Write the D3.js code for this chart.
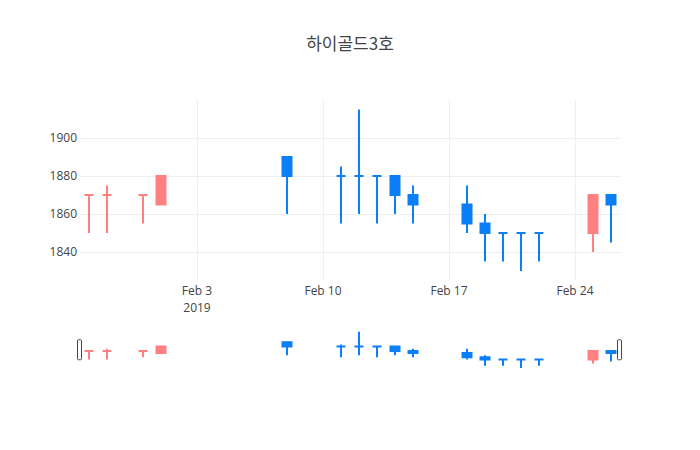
<!DOCTYPE html>
<html>
<head>
<meta charset="utf-8">
<script src="https://cdn.jsdelivr.net/npm/d3@7"></script>
<style>
  html, body { margin: 0; padding: 0; background: #fff; }
  svg { display: block; }
</style>
</head>
<body>
<svg id="chart" width="700" height="450"></svg>
<script>
const title = "하이골드3호";
const dates = ["2019-01-28","2019-01-29","2019-01-31","2019-02-01","2019-02-08","2019-02-11","2019-02-12","2019-02-13","2019-02-14","2019-02-15","2019-02-18","2019-02-19","2019-02-20","2019-02-21","2019-02-22","2019-02-25","2019-02-26"];
const openVals  = [1870,1870,1870,1865,1890,1880,1880,1880,1880,1870,1865,1855,1850,1850,1850,1850,1870];
const highVals  = [1870,1875,1870,1880,1890,1885,1915,1880,1880,1875,1875,1860,1850,1850,1850,1870,1870];
const lowVals   = [1850,1850,1855,1865,1860,1855,1860,1855,1860,1855,1850,1835,1835,1830,1835,1840,1845];
const closeVals = [1870,1870,1870,1880,1880,1880,1880,1880,1870,1865,1855,1850,1850,1850,1850,1870,1865];
const xTickDates = ["2019-02-03","2019-02-10","2019-02-17","2019-02-24"];
const xTickLabels = [["Feb 3","2019"],["Feb 10"],["Feb 17"],["Feb 24"]];
const yTicks = [1840,1860,1880,1900];
const xRange = ["2019-01-27T12:00:00Z","2019-02-26T12:00:00Z"];
const yRange = [1825.3, 1920];

const incColor = "#ff8080";
const decColor = "#0a7ff8";
const gridColor = "#eeeeee";
const textColor = "#444444";
const fontFam = "'Open Sans', 'Noto Sans', sans-serif";

const parse = s => new Date(s.length === 10 ? s + "T00:00:00Z" : s);
const data = dates.map((d, i) => ({ date: parse(d), o: openVals[i], h: highVals[i], l: lowVals[i], c: closeVals[i] }));
let prevInc = true;
data.forEach(d => {
  if (d.c > d.o) d.inc = true;
  else if (d.c < d.o) d.inc = false;
  else d.inc = prevInc;
  prevInc = d.inc;
});

const svg = d3.select("#chart");
const L = 80, R = 620, T = 100, B = 280;
const sT = 329.5, sB = 370;

const x = d3.scaleUtc().domain(xRange.map(parse)).range([L, R]);
const y = d3.scaleLinear().domain(yRange).range([B, T]);
const ys = d3.scaleLinear().domain(yRange).range([sB, sT]);

// title
svg.append("text")
  .attr("x", 350).attr("y", 50)
  .attr("text-anchor", "middle")
  .attr("font-family", "'Noto Sans CJK KR', 'Open Sans', sans-serif")
  .attr("font-size", 17)
  .attr("fill", textColor)
  .text(title);

// grid lines
const xAxis = d3.axisBottom(x).tickValues(xTickDates.map(parse)).tickSize(-(B - T)).tickFormat("");
const gx = svg.append("g").attr("transform", `translate(0,${B})`).call(xAxis);
gx.select(".domain").remove();
gx.selectAll(".tick line").attr("stroke", gridColor).attr("stroke-width", 1);

const yAxis = d3.axisLeft(y).tickValues(yTicks).tickSize(-(R - L)).tickPadding(3).tickFormat(d3.format("d"));
const gy = svg.append("g").attr("transform", `translate(${L},0)`).call(yAxis);
gy.select(".domain").remove();
gy.selectAll(".tick line").attr("stroke", gridColor).attr("stroke-width", 1);
gy.selectAll(".tick text")
  .attr("font-family", fontFam).attr("font-size", 12).attr("fill", textColor);

// x tick labels (multi-line)
const xl = svg.append("g");
xTickDates.forEach((d, i) => {
  xTickLabels[i].forEach((line, j) => {
    xl.append("text")
      .attr("x", x(parse(d))).attr("y", 295 + j * 16.5)
      .attr("text-anchor", "middle")
      .attr("font-family", fontFam).attr("font-size", 12).attr("fill", textColor)
      .text(line);
  });
});

// candlestick drawer
const halfDay = 12 * 3600 * 1000;
function candlePath(d, ys_) {
  const cx = x(d.date);
  const w = (x(new Date(d.date.getTime() + halfDay)) - cx) / 2;
  const yo = ys_(d.o), yc = ys_(d.c), yh = ys_(d.h), yl = ys_(d.l);
  const top = Math.min(yo, yc), bot = Math.max(yo, yc);
  let p = `M${cx - w},${yo}V${yc}H${cx + w}V${yo}Z`;
  if (yh < top) p += `M${cx},${yh}V${top}`;
  if (yl > bot) p += `M${cx},${yl}V${bot}`;
  return p;
}
function drawCandles(g, ys_) {
  g.selectAll("path.candle").data(data).join("path")
    .attr("class", "candle")
    .attr("d", d => candlePath(d, ys_))
    .attr("fill", d => d.inc ? incColor : decColor)
    .attr("stroke", d => d.inc ? incColor : decColor)
    .attr("stroke-width", 2);
}

const clipMain = svg.append("defs").append("clipPath").attr("id", "clipMain");
clipMain.append("rect").attr("x", L).attr("y", T).attr("width", R - L).attr("height", B - T);
drawCandles(svg.append("g").attr("clip-path", "url(#clipMain)"), y);

// range slider
svg.append("rect").attr("x", L).attr("y", sT).attr("width", R - L).attr("height", sB - sT).attr("fill", "#fff");
drawCandles(svg.append("g"), ys);
const hH = 20, hW = 4;
[L, R].forEach(hx => {
  svg.append("rect")
    .attr("x", hx - hW / 2 - 0.5).attr("y", (sT + sB) / 2 - hH / 2)
    .attr("width", hW).attr("height", hH)
    .attr("rx", 1).attr("ry", 1)
    .attr("fill", "#fff").attr("stroke", "#444").attr("stroke-width", 1);
});
</script>
</body>
</html>
